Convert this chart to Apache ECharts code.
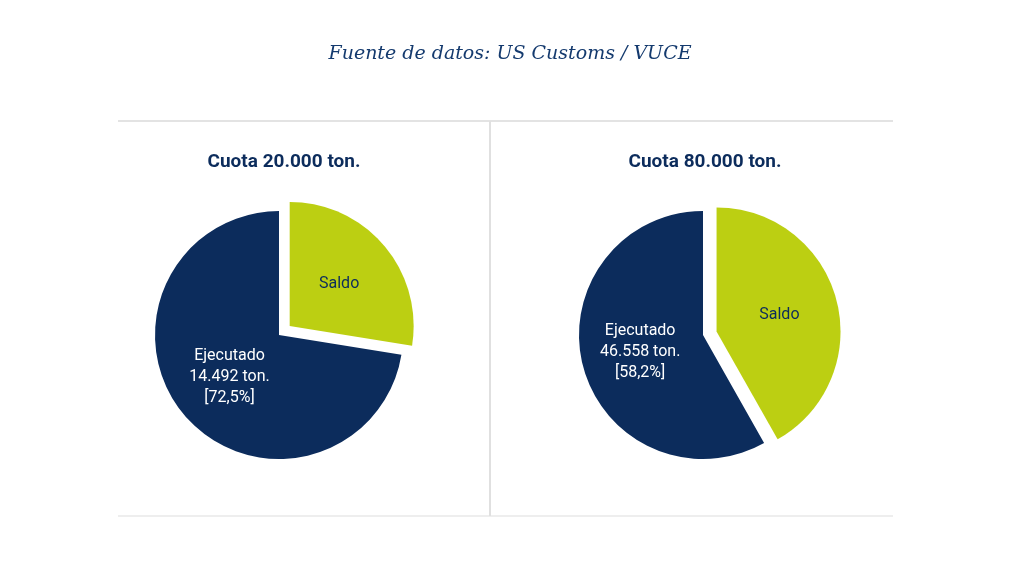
<!DOCTYPE html>
<html><head><meta charset="utf-8">
<script src="https://cdn.jsdelivr.net/npm/echarts@6/dist/echarts.min.js"></script>
<style>html,body{margin:0;padding:0;background:#fff}#c{width:1020px;height:562px}</style>
</head><body><div id="c"></div>
<script>
const titles = ["Cuota 20.000 ton.", "Cuota 80.000 ton."];
const categories = ["Saldo", "Ejecutado"];
const pieA = [5508, 14492];
const pieB = [33442, 46558];
const labelsA = ["Saldo", "Ejecutado\n14.492 ton.\n[72,5%]"];
const labelsB = ["Saldo", "Ejecutado\n46.558 ton.\n[58,2%]"];
const colors = ["#bccf12", "#0c2c5c"];

function mk(vals, labs, cx) {
  return {
    type: 'pie', center: [cx, 335], radius: [0, 124], startAngle: 90, clockwise: true,
    selectedMode: 'single', selectedOffset: 14, animation: false,
    label: {position: 'inner', fontFamily: 'Roboto', fontSize: 16, lineHeight: 21},
    labelLine: {show: false},
    data: vals.map((v, i) => ({
      name: categories[i], value: v, selected: i === 0,
      itemStyle: {color: colors[i]},
      label: {formatter: labs[i], color: i === 0 ? '#0c2c5c' : '#ffffff'}
    }))
  };
}
const chart = echarts.init(document.getElementById('c'));
chart.setOption({
  backgroundColor: '#fff',
  title: [
    {text: 'Fuente de datos: US Customs / VUCE', left: 'center', top: 40,
     textStyle: {fontFamily: 'DejaVu Serif', fontStyle: 'italic', fontWeight: 'normal', fontSize: 19, color: '#143a6e'}},
    {text: titles[0], left: 279, top: 148, textAlign: 'center',
     textStyle: {fontFamily: 'Roboto', fontWeight: 'bold', fontSize: 19, color: '#0c2c5c'}},
    {text: titles[1], left: 700, top: 148, textAlign: 'center',
     textStyle: {fontFamily: 'Roboto', fontWeight: 'bold', fontSize: 19, color: '#0c2c5c'}}
  ],
  graphic: [
    {type: 'line', shape: {x1: 118, y1: 121, x2: 893, y2: 121}, style: {stroke: '#e3e3e3', lineWidth: 2}},
    {type: 'line', shape: {x1: 118, y1: 516, x2: 893, y2: 516}, style: {stroke: '#eeeeee', lineWidth: 2}},
    {type: 'line', shape: {x1: 490, y1: 121, x2: 490, y2: 516}, style: {stroke: '#e0e0e0', lineWidth: 2}}
  ],
  series: [mk(pieA, labelsA, 279), mk(pieB, labelsB, 703)]
});
</script></body></html>
